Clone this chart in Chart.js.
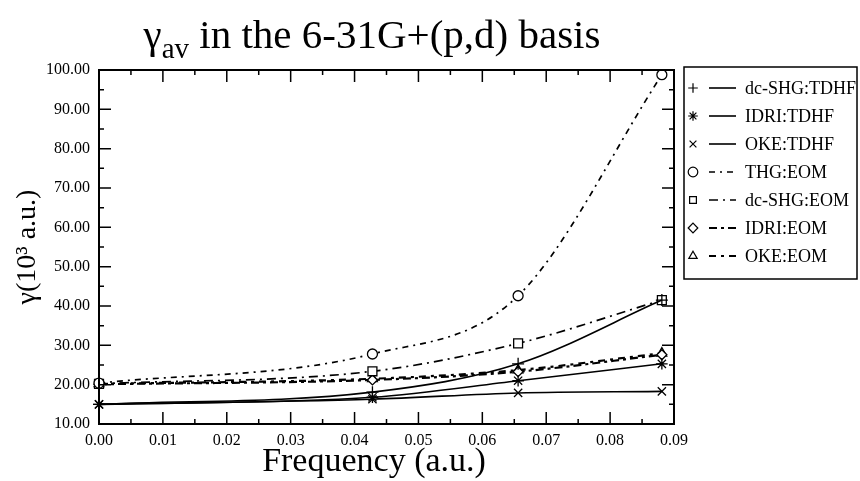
<!DOCTYPE html>
<html lang="en">
<head>
<meta charset="UTF-8">
<title>gamma av in the 6-31G+(p,d) basis</title>
<style>
  body { margin: 0; background: #fff; }
  #wrap { width: 860px; height: 481px; }
</style>
<script src="https://cdn.jsdelivr.net/npm/chart.js"></script>
</head>
<body>
<div id="wrap"><canvas id="chart" width="860" height="481"></canvas></div>
<script>
// frequencies (a.u.) and gamma values (10^3 a.u.)
const freq = [0, 0.0428, 0.0656, 0.0881];

const shgTdhf  = [15.0, 18.1, 25.3, 41.5];
const idriTdhf = [15.0, 16.8, 21.0, 25.3];
const okeTdhf  = [15.0, 16.3, 17.9, 18.3];
const thgEom   = [20.4, 27.8, 42.6, 98.8];
const shgEom   = [20.2, 23.4, 30.5, 41.5];
const idriEom  = [20.1, 21.2, 23.3, 27.6];
const okeEom   = [20.2, 21.5, 23.7, 28.0];

const labels = ['dc-SHG:TDHF', 'IDRI:TDHF', 'OKE:TDHF', 'THG:EOM', 'dc-SHG:EOM', 'IDRI:EOM', 'OKE:EOM'];

const xTickValues = [0, 0.01, 0.02, 0.03, 0.04, 0.05, 0.06, 0.07, 0.08, 0.09];
const yTickValues = [10, 20, 30, 40, 50, 60, 70, 80, 90, 100];

const serif = "'Liberation Serif', 'DejaVu Serif', serif";

function pts(ys) {
    return freq.map((x, i) => ({ x: x, y: ys[i] }));
}

function series(label, ys, style, radius, dash, width) {
    return {
        label: label,
        data: pts(ys),
        borderColor: '#000',
        backgroundColor: '#fff',
        borderWidth: width,
        borderDash: dash,
        pointStyle: style,
        pointRadius: radius,
        pointBorderColor: '#000',
        pointBackgroundColor: '#fff',
        pointBorderWidth: 1.3,
        cubicInterpolationMode: 'monotone',
        clip: 10
    };
}

// chart title (with subscript) and x axis title
const titlePlugin = {
    id: 'titlePlugin',
    afterDraw(chart) {
        const ctx = chart.ctx;
        ctx.save();
        ctx.fillStyle = '#000';
        ctx.textBaseline = 'alphabetic';
        const big = '41px ' + serif, small = '29px ' + serif;
        const rest = ' in the 6-31G+(p,d) basis';
        ctx.font = big;
        const wG = ctx.measureText('γ').width;
        const wR = ctx.measureText(rest).width;
        ctx.font = small;
        const wS = ctx.measureText('av').width;
        let x = 372 - (wG + wS + wR) / 2;
        ctx.font = big;
        ctx.fillText('γ', x, 48);
        x += wG;
        ctx.font = small;
        ctx.fillText('av', x, 58);
        x += wS;
        ctx.font = big;
        ctx.fillText(rest, x, 48);

        ctx.font = '34px ' + serif;
        ctx.textAlign = 'center';
        ctx.textBaseline = 'middle';
        ctx.fillText('Frequency (a.u.)', 374, 462);
        ctx.restore();
    }
};

// frame with inward ticks on all four sides
const framePlugin = {
    id: 'framePlugin',
    afterDatasetsDraw(chart) {
        const ctx = chart.ctx;
        const a = chart.chartArea;
        const xs = chart.scales.x, ys = chart.scales.y;
        ctx.save();
        ctx.strokeStyle = '#000';
        ctx.lineWidth = 1.5;
        ctx.beginPath();
        for (let i = 0; i < xTickValues.length; i++) {
            const px = xs.getPixelForValue(xTickValues[i]);
            ctx.moveTo(px, a.bottom); ctx.lineTo(px, a.bottom - 12);
            ctx.moveTo(px, a.top); ctx.lineTo(px, a.top + 12);
            if (i < xTickValues.length - 1) {
                const mx = xs.getPixelForValue((xTickValues[i] + xTickValues[i + 1]) / 2);
                ctx.moveTo(mx, a.bottom); ctx.lineTo(mx, a.bottom - 5);
                ctx.moveTo(mx, a.top); ctx.lineTo(mx, a.top + 5);
            }
        }
        for (let i = 0; i < yTickValues.length; i++) {
            const py = ys.getPixelForValue(yTickValues[i]);
            ctx.moveTo(a.left, py); ctx.lineTo(a.left + 12, py);
            ctx.moveTo(a.right, py); ctx.lineTo(a.right - 12, py);
            if (i < yTickValues.length - 1) {
                const my = ys.getPixelForValue((yTickValues[i] + yTickValues[i + 1]) / 2);
                ctx.moveTo(a.left, my); ctx.lineTo(a.left + 5, my);
                ctx.moveTo(a.right, my); ctx.lineTo(a.right - 5, my);
            }
        }
        ctx.stroke();
        ctx.lineWidth = 2;
        ctx.strokeRect(a.left, a.top, a.right - a.left, a.bottom - a.top);
        ctx.restore();
    }
};

// boxed legend at the right: marker, line sample, label
const legendPlugin = {
    id: 'legendPlugin',
    afterDraw(chart) {
        const ctx = chart.ctx;
        const box = { x: 684, y: 67, w: 173, h: 212 };
        ctx.save();
        ctx.strokeStyle = '#000';
        ctx.lineWidth = 1.5;
        ctx.strokeRect(box.x, box.y, box.w, box.h);
        ctx.font = '18px ' + serif;
        ctx.fillStyle = '#000';
        ctx.textBaseline = 'middle';
        chart.data.datasets.forEach((ds, i) => {
            const y = box.y + 21 + i * 28;
            ctx.save();
            ctx.strokeStyle = '#000';
            ctx.lineWidth = ds.borderWidth;
            ctx.setLineDash(ds.borderDash || []);
            ctx.beginPath();
            ctx.moveTo(709, y);
            ctx.lineTo(736, y);
            ctx.stroke();
            ctx.restore();
            ctx.save();
            ctx.strokeStyle = '#000';
            ctx.fillStyle = '#fff';
            ctx.lineWidth = 1.2;
            Chart.helpers.drawPoint(ctx, { pointStyle: ds.pointStyle, radius: 4.8, borderWidth: 1.2, rotation: 0 }, 693, y);
            ctx.restore();
            ctx.fillText(ds.label, 745, y + 1);
        });
        ctx.restore();
    }
};

new Chart(document.getElementById('chart'), {
    type: 'line',
    data: {
        datasets: [
            series(labels[0], shgTdhf, 'cross', 6, [], 1.6),
            series(labels[1], idriTdhf, 'star', 5.8, [], 1.6),
            series(labels[2], okeTdhf, 'crossRot', 5.8, [], 1.6),
            series(labels[3], thgEom, 'circle', 5, [6, 5, 2, 5], 1.7),
            series(labels[4], shgEom, 'rect', 6.3, [9, 5, 2, 5], 1.7),
            series(labels[5], idriEom, 'rectRot', 5, [8, 4, 3, 4], 2.2),
            series(labels[6], okeEom, 'triangle', 5.6, [7, 5, 3, 5], 2.2)
        ]
    },
    options: {
        responsive: false,
        animation: false,
        devicePixelRatio: 1,
        layout: { padding: { left: 0, right: 186, top: 70, bottom: 0 } },
        plugins: { legend: { display: false }, tooltip: { enabled: false } },
        scales: {
            x: {
                type: 'linear',
                min: 0,
                max: 0.09,
                grid: { display: false, drawTicks: false },
                border: { display: false },
                afterBuildTicks: s => { s.ticks = xTickValues.map(v => ({ value: v })); },
                afterFit: s => { s.height = 57; },
                ticks: {
                    color: '#000',
                    padding: 7,
                    maxRotation: 0,
                    font: { family: serif, size: 16 },
                    callback: v => Number(v).toFixed(2)
                },
                title: { display: false }
            },
            y: {
                type: 'linear',
                min: 10,
                max: 100,
                grid: { display: false, drawTicks: false },
                border: { display: false },
                afterBuildTicks: s => { s.ticks = yTickValues.map(v => ({ value: v })); },
                afterFit: s => { s.width = 99; },
                ticks: {
                    color: '#000',
                    padding: 9,
                    font: { family: serif, size: 16 },
                    callback: v => Number(v).toFixed(2)
                },
                title: {
                    display: true,
                    text: 'γ(10³ a.u.)',
                    color: '#000',
                    font: { family: serif, size: 28 },
                    padding: { top: 11, bottom: 0 }
                }
            }
        }
    },
    plugins: [framePlugin, legendPlugin, titlePlugin]
});
</script>
</body>
</html>
